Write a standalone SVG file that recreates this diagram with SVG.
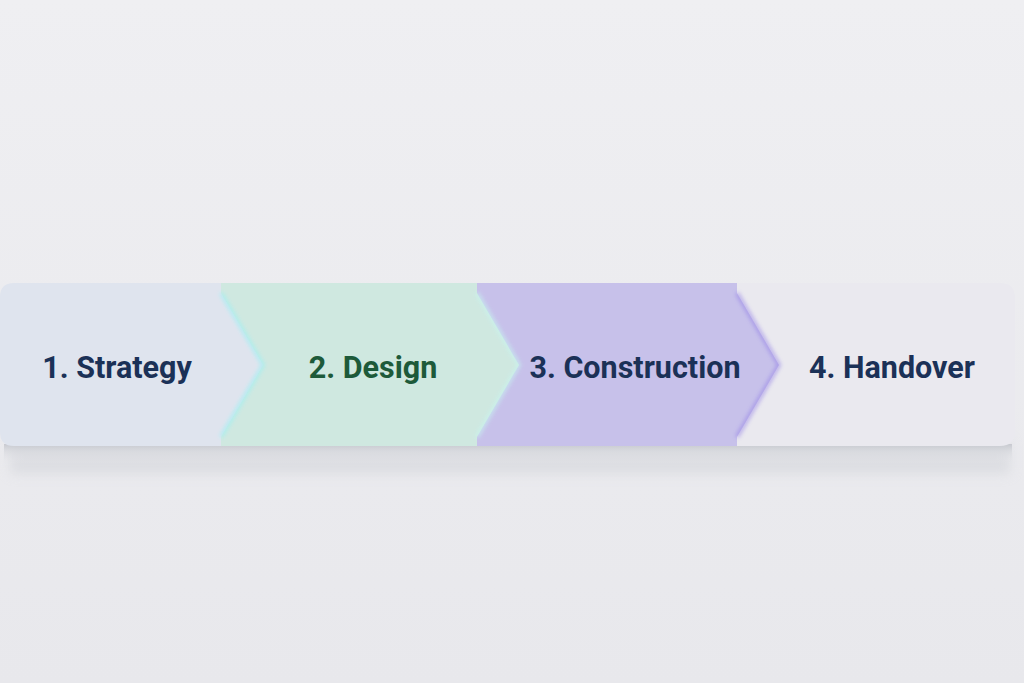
<svg xmlns="http://www.w3.org/2000/svg" width="1024" height="683" viewBox="0 0 1024 683">
<defs>
<style>
.lbl{font-family:Roboto,"DejaVu Sans",sans-serif;font-weight:700;font-size:30.5px;text-anchor:middle}
.navy{fill:#1b3157}
.green{fill:#1d5a3a}
</style>
<linearGradient id="bg" x1="0" y1="0" x2="0" y2="1">
<stop offset="0" stop-color="#efeff2"/><stop offset="1" stop-color="#e8e8ec"/>
</linearGradient>
<linearGradient id="shade" x1="0" y1="0" x2="0" y2="1">
<stop offset="0" stop-color="#c2c4cb" stop-opacity="0.85"/><stop offset="0.35" stop-color="#d4d6db" stop-opacity="0.6"/><stop offset="1" stop-color="#e7e7eb" stop-opacity="0"/>
</linearGradient>
<filter id="glow" x="-50%" y="-20%" width="200%" height="140%"><feGaussianBlur stdDeviation="2"/></filter>
<filter id="soft" x="-5%" y="-50%" width="110%" height="200%"><feGaussianBlur stdDeviation="6"/></filter>
</defs>
<rect width="1024" height="683" fill="url(#bg)"/>
<rect x="10" y="440" width="1000" height="34" fill="#cfd1d7" opacity="0.5" filter="url(#soft)"/>
<rect x="4" y="444" width="1008" height="20" fill="url(#shade)"/>
<g id="connectors"></g>
<g id="node4">
<path d="M730,283 H1000 Q1015,283 1015,298 V431 Q1015,446 1000,446 H730 Z" fill="#eae9ef"/>
<text class="lbl navy" x="892" y="378">4. Handover</text>
</g>
<g id="node3">
<path d="M470,283 H737 V293 L779,365 L737,437 V446 H470 Z" fill="#c7c1ea"/>
<path d="M737,293 L779,365 L737,437" fill="none" stroke="#8c78e6" stroke-width="3" opacity="0.7" filter="url(#glow)"/>
<text class="lbl navy" x="635" y="378">3. Construction</text>
</g>
<g id="node2">
<path d="M215,283 H477 V293 L519,365 L477,437 V446 H215 Z" fill="#cfe8e0"/>
<path d="M477,293 L519,365 L477,437" fill="none" stroke="#c8f4f0" stroke-width="3" opacity="0.9" filter="url(#glow)"/>
<text class="lbl green" x="373" y="378">2. Design</text>
</g>
<g id="node1">
<path d="M14,283 H221 V293 L263,365 L221,437 V446 H14 Q0,446 0,432 V297 Q0,283 14,283 Z" fill="#dfe4ee"/>
<path d="M221,293 L263,365 L221,437" fill="none" stroke="#9ff0f4" stroke-width="3" opacity="0.9" filter="url(#glow)"/>
<text class="lbl navy" x="117" y="378">1. Strategy</text>
</g>
</svg>
